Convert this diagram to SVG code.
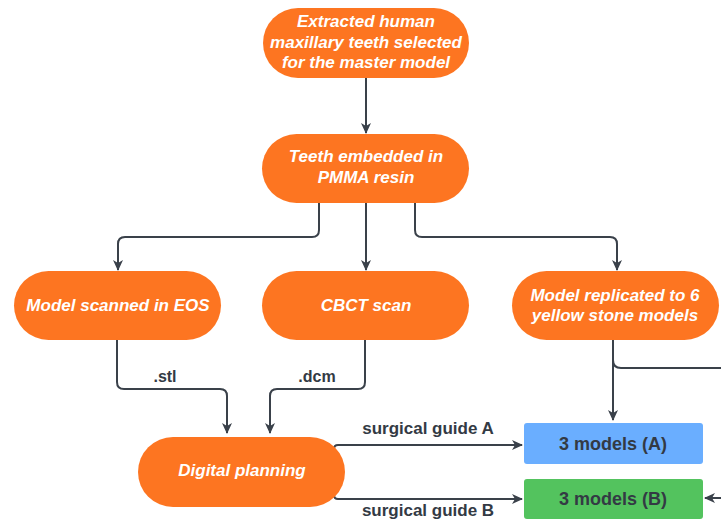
<svg xmlns="http://www.w3.org/2000/svg" width="721" height="519" viewBox="0 0 721 519">
<defs>
<marker id="arr" markerWidth="11" markerHeight="10" refX="10" refY="5" orient="auto" markerUnits="userSpaceOnUse">
<path d="M0,0 L11,5 L0,10 L3,5 z" fill="#3a414a"/>
</marker>
<style>
.pill{fill:#fd7521;}
.wt{fill:#ffffff;font-family:"Liberation Sans",Arial,sans-serif;font-weight:bold;font-style:italic;font-size:17px;text-anchor:middle;}
.bt{fill:#333a44;font-family:"Liberation Sans",Arial,sans-serif;font-weight:bold;font-size:18px;text-anchor:middle;}
.lb{fill:#333a44;font-family:"Liberation Sans",Arial,sans-serif;font-weight:bold;font-size:16px;text-anchor:middle;}
.lb2{fill:#333a44;font-family:"Liberation Sans",Arial,sans-serif;font-weight:bold;font-size:17px;text-anchor:middle;}
.ln{fill:none;stroke:#3a414a;stroke-width:2;}
</style>
</defs>
<rect width="721" height="519" fill="#ffffff"/>
<g id="connectors">
<path class="ln" d="M366,78 V133" marker-end="url(#arr)"/>
<path class="ln" d="M319,203 V230 Q319,237 312,237 H125 Q118,237 118,244 V270" marker-end="url(#arr)"/>
<path class="ln" d="M366,203 V270" marker-end="url(#arr)"/>
<path class="ln" d="M415,203 V230 Q415,237 422,237 H610 Q617,237 617,244 V270" marker-end="url(#arr)"/>
<path class="ln" d="M117,340 V382 Q117,389 124,389 H220 Q227,389 227,396 V433" marker-end="url(#arr)"/>
<path class="ln" d="M365,340 V382 Q365,389 358,389 H277 Q270,389 270,396 V433" marker-end="url(#arr)"/>
<path class="ln" d="M613,340 V420" marker-end="url(#arr)"/>
<path class="ln" d="M613,360 Q613,368 621,368 H721"/>
<path class="ln" d="M334,450 V449 Q334,445 338,445 H522" marker-end="url(#arr)"/>
<path class="ln" d="M334,494 V495 Q334,499 338,499 H522" marker-end="url(#arr)"/>
<path class="ln" d="M721,498 H705" marker-end="url(#arr)"/>
<text class="lb" x="165" y="382">.stl</text>
<text class="lb" x="317" y="382">.dcm</text>
<text class="lb2" x="428" y="434">surgical guide A</text>
<text class="lb2" x="428" y="516">surgical guide B</text>
</g>
<g id="n1"><rect class="pill" x="263" y="8" width="206" height="70" rx="35"/>
<text class="wt" x="366" y="27">Extracted human</text>
<text class="wt" x="366" y="48">maxillary teeth selected</text>
<text class="wt" x="366" y="68">for the master model</text></g>
<g id="n2"><rect class="pill" x="262" y="134" width="207" height="69" rx="34.5"/>
<text class="wt" x="366" y="162">Teeth embedded in</text>
<text class="wt" x="366" y="183">PMMA resin</text></g>
<g id="n3"><rect class="pill" x="14" y="271" width="207" height="69" rx="34.5"/>
<text class="wt" x="118" y="311">Model scanned in EOS</text></g>
<g id="n4"><rect class="pill" x="262" y="271" width="207" height="69" rx="34.5"/>
<text class="wt" x="366" y="311">CBCT scan</text></g>
<g id="n5"><rect class="pill" x="512" y="271" width="207" height="69" rx="34.5"/>
<text class="wt" x="615" y="301">Model replicated to 6</text>
<text class="wt" x="615" y="321">yellow stone models</text></g>
<g id="n6"><rect class="pill" x="138" y="437" width="207" height="70" rx="35"/>
<text class="wt" x="242" y="476">Digital planning</text></g>
<g id="n7"><rect x="524" y="423" width="179" height="41" rx="3" fill="#6aaeff"/>
<text class="bt" x="613" y="450">3 models (A)</text></g>
<g id="n8"><rect x="524" y="479" width="179" height="40" rx="3" fill="#53c35e"/>
<text class="bt" x="613" y="505">3 models (B)</text></g>
</svg>
